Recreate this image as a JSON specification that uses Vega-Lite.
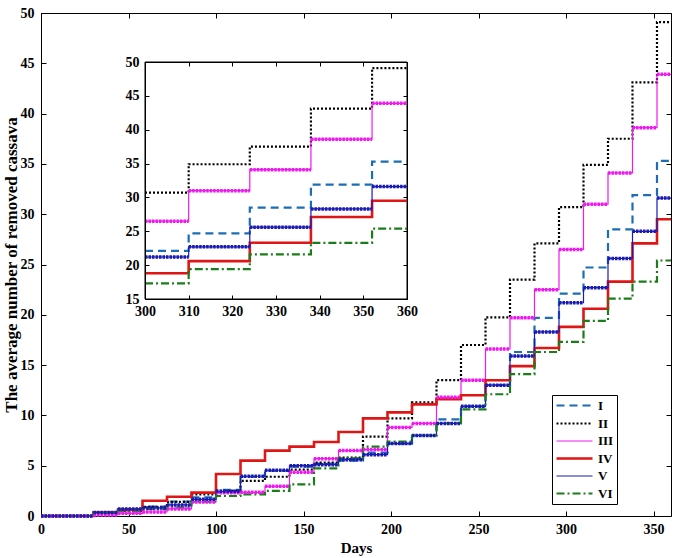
{
  "$schema": "https://vega.github.io/schema/vega-lite/v6.json",
  "width": 630,
  "height": 503,
  "autosize": {"type": "none"},
  "padding": {"left": 41, "top": 13, "right": 14, "bottom": 42},
  "background": "white",
  "config": {
    "view": {"stroke": null},
    "axis": {
      "grid": false,
      "domainColor": "black",
      "tickColor": "black",
      "labelColor": "black",
      "titleColor": "black",
      "labelFont": "Liberation Serif",
      "labelFontWeight": "bold",
      "labelFontSize": 14,
      "titleFont": "Liberation Serif",
      "titleFontWeight": "bold",
      "titleFontSize": 14,
      "labelFlush": false,
      "labelOverlap": false
    },
    "legend": {
      "symbolType": "M-1,0H5",
      "symbolSize": 144,
      "labelFont": "Liberation Serif",
      "labelFontWeight": "bold",
      "labelFontSize": 13,
      "labelColor": "black",
      "fillColor": "white",
      "strokeColor": "black",
      "padding": 3,
      "rowPadding": 3,
      "labelOffset": 28
    }
  },
  "data": {"values": [
    {"s":"I","d":0,"e":30,"v":0},{"s":"I","d":30,"e":44,"v":0.35},{"s":"I","d":44,"e":58,"v":0.66},{"s":"I","d":58,"e":72,"v":0.93},{"s":"I","d":72,"e":86,"v":1.42},{"s":"I","d":86,"e":100,"v":1.86},{"s":"I","d":100,"e":114,"v":2.6},{"s":"I","d":114,"e":128,"v":3.9},{"s":"I","d":128,"e":142,"v":4.5},{"s":"I","d":142,"e":156,"v":4.9},{"s":"I","d":156,"e":170,"v":5.2},{"s":"I","d":170,"e":184,"v":5.5},{"s":"I","d":184,"e":198,"v":6.3},{"s":"I","d":198,"e":212,"v":7.2},{"s":"I","d":212,"e":226,"v":8.0},{"s":"I","d":226,"e":240,"v":9.6},{"s":"I","d":240,"e":254,"v":10.9},{"s":"I","d":254,"e":268,"v":13.0},{"s":"I","d":268,"e":282,"v":16.3},{"s":"I","d":282,"e":296,"v":19.7},{"s":"I","d":296,"e":310,"v":22.1},{"s":"I","d":310,"e":324,"v":24.7},{"s":"I","d":324,"e":338,"v":28.5},{"s":"I","d":338,"e":352,"v":31.9},{"s":"I","d":352,"e":360,"v":35.3},{"s":"I","d":360,"e":360,"v":35.3},
    {"s":"II","d":0,"e":30,"v":0},{"s":"II","d":30,"e":44,"v":0.35},{"s":"II","d":44,"e":58,"v":0.5},{"s":"II","d":58,"e":72,"v":0.9},{"s":"II","d":72,"e":86,"v":1.4},{"s":"II","d":86,"e":100,"v":2.15},{"s":"II","d":100,"e":114,"v":2.5},{"s":"II","d":114,"e":128,"v":3.5},{"s":"II","d":128,"e":142,"v":3.9},{"s":"II","d":142,"e":156,"v":4.6},{"s":"II","d":156,"e":170,"v":5.3},{"s":"II","d":170,"e":184,"v":5.8},{"s":"II","d":184,"e":198,"v":7.9},{"s":"II","d":198,"e":212,"v":9.7},{"s":"II","d":212,"e":226,"v":11.3},{"s":"II","d":226,"e":240,"v":13.5},{"s":"II","d":240,"e":254,"v":17.0},{"s":"II","d":254,"e":268,"v":19.75},{"s":"II","d":268,"e":282,"v":23.5},{"s":"II","d":282,"e":296,"v":27.1},{"s":"II","d":296,"e":310,"v":30.7},{"s":"II","d":310,"e":324,"v":34.9},{"s":"II","d":324,"e":338,"v":37.5},{"s":"II","d":338,"e":352,"v":43.1},{"s":"II","d":352,"e":360,"v":49.1},{"s":"II","d":360,"e":360,"v":49.1},
    {"s":"III","d":0,"e":30,"v":0},{"s":"III","d":30,"e":44,"v":0.1},{"s":"III","d":44,"e":58,"v":0.27},{"s":"III","d":58,"e":72,"v":0.4},{"s":"III","d":72,"e":86,"v":0.7},{"s":"III","d":86,"e":100,"v":1.4},{"s":"III","d":100,"e":114,"v":2.3},{"s":"III","d":114,"e":128,"v":2.35},{"s":"III","d":128,"e":142,"v":2.95},{"s":"III","d":142,"e":156,"v":4.35},{"s":"III","d":156,"e":170,"v":5.7},{"s":"III","d":170,"e":184,"v":6.5},{"s":"III","d":184,"e":198,"v":6.6},{"s":"III","d":198,"e":212,"v":8.8},{"s":"III","d":212,"e":226,"v":9.2},{"s":"III","d":226,"e":240,"v":11.8},{"s":"III","d":240,"e":254,"v":13.5},{"s":"III","d":254,"e":268,"v":16.6},{"s":"III","d":268,"e":282,"v":19.7},{"s":"III","d":282,"e":296,"v":22.5},{"s":"III","d":296,"e":310,"v":26.5},{"s":"III","d":310,"e":324,"v":31.0},{"s":"III","d":324,"e":338,"v":34.1},{"s":"III","d":338,"e":352,"v":38.6},{"s":"III","d":352,"e":360,"v":43.9},{"s":"III","d":360,"e":360,"v":43.9},
    {"s":"IV","d":0,"e":30,"v":0},{"s":"IV","d":30,"e":44,"v":0.35},{"s":"IV","d":44,"e":58,"v":0.6},{"s":"IV","d":58,"e":72,"v":1.52},{"s":"IV","d":72,"e":86,"v":1.92},{"s":"IV","d":86,"e":100,"v":2.32},{"s":"IV","d":100,"e":114,"v":4.17},{"s":"IV","d":114,"e":128,"v":5.5},{"s":"IV","d":128,"e":142,"v":6.5},{"s":"IV","d":142,"e":156,"v":6.9},{"s":"IV","d":156,"e":170,"v":7.35},{"s":"IV","d":170,"e":184,"v":8.35},{"s":"IV","d":184,"e":198,"v":9.7},{"s":"IV","d":198,"e":212,"v":10.3},{"s":"IV","d":212,"e":226,"v":11.1},{"s":"IV","d":226,"e":240,"v":11.6},{"s":"IV","d":240,"e":254,"v":12.0},{"s":"IV","d":254,"e":268,"v":13.5},{"s":"IV","d":268,"e":282,"v":14.9},{"s":"IV","d":282,"e":296,"v":16.7},{"s":"IV","d":296,"e":310,"v":18.8},{"s":"IV","d":310,"e":324,"v":20.6},{"s":"IV","d":324,"e":338,"v":23.3},{"s":"IV","d":338,"e":352,"v":27.1},{"s":"IV","d":352,"e":360,"v":29.5},{"s":"IV","d":360,"e":360,"v":29.5},
    {"s":"V","d":0,"e":30,"v":0},{"s":"V","d":30,"e":44,"v":0.35},{"s":"V","d":44,"e":58,"v":0.7},{"s":"V","d":58,"e":72,"v":0.8},{"s":"V","d":72,"e":86,"v":1.1},{"s":"V","d":86,"e":100,"v":1.66},{"s":"V","d":100,"e":114,"v":2.45},{"s":"V","d":114,"e":128,"v":3.95},{"s":"V","d":128,"e":142,"v":4.55},{"s":"V","d":142,"e":156,"v":5.0},{"s":"V","d":156,"e":170,"v":5.1},{"s":"V","d":170,"e":184,"v":5.6},{"s":"V","d":184,"e":198,"v":6.1},{"s":"V","d":198,"e":212,"v":7.2},{"s":"V","d":212,"e":226,"v":8.0},{"s":"V","d":226,"e":240,"v":9.2},{"s":"V","d":240,"e":254,"v":10.9},{"s":"V","d":254,"e":268,"v":13.0},{"s":"V","d":268,"e":282,"v":15.9},{"s":"V","d":282,"e":296,"v":18.3},{"s":"V","d":296,"e":310,"v":21.2},{"s":"V","d":310,"e":324,"v":22.7},{"s":"V","d":324,"e":338,"v":25.6},{"s":"V","d":338,"e":352,"v":28.3},{"s":"V","d":352,"e":360,"v":31.6},{"s":"V","d":360,"e":360,"v":31.6},
    {"s":"VI","d":0,"e":30,"v":0},{"s":"VI","d":30,"e":44,"v":0.3},{"s":"VI","d":44,"e":58,"v":0.45},{"s":"VI","d":58,"e":72,"v":0.67},{"s":"VI","d":72,"e":86,"v":0.86},{"s":"VI","d":86,"e":100,"v":1.42},{"s":"VI","d":100,"e":114,"v":1.99},{"s":"VI","d":114,"e":128,"v":2.15},{"s":"VI","d":128,"e":142,"v":2.5},{"s":"VI","d":142,"e":156,"v":3.15},{"s":"VI","d":156,"e":170,"v":4.74},{"s":"VI","d":170,"e":184,"v":5.73},{"s":"VI","d":184,"e":198,"v":6.9},{"s":"VI","d":198,"e":212,"v":7.4},{"s":"VI","d":212,"e":226,"v":8.0},{"s":"VI","d":226,"e":240,"v":9.2},{"s":"VI","d":240,"e":254,"v":10.6},{"s":"VI","d":254,"e":268,"v":12.1},{"s":"VI","d":268,"e":282,"v":14.1},{"s":"VI","d":282,"e":296,"v":16.3},{"s":"VI","d":296,"e":310,"v":17.3},{"s":"VI","d":310,"e":324,"v":19.4},{"s":"VI","d":324,"e":338,"v":21.6},{"s":"VI","d":338,"e":352,"v":23.3},{"s":"VI","d":352,"e":360,"v":25.4},{"s":"VI","d":360,"e":360,"v":25.4}
  ]},
  "resolve": {"scale": {"x": "independent", "y": "independent"}},
  "layer": [
    {
      "layer": [
        {
          "mark": {"type": "line", "interpolate": "step-after"},
          "encoding": {
            "x": {"field": "d", "type": "quantitative", "scale": {"domain": [0, 360], "nice": false, "zero": false},
                  "axis": {"orient": "bottom", "values": [0,50,100,150,200,250,300,350], "tickSize": -5, "labelPadding": 11, "title": "Days", "titlePadding": 4, "titleFontSize": 15}},
            "y": {"field": "v", "type": "quantitative", "scale": {"domain": [0, 50], "nice": false, "zero": false},
                  "axis": {"orient": "left", "values": [0,5,10,15,20,25,30,35,40,45,50], "tickSize": -5, "labelPadding": 12, "title": "The average number of removed cassava", "titlePadding": 0, "titleFontSize": 17}},
            "color": {"field": "s", "type": "nominal",
                      "scale": {"domain": ["I","II","III","IV","V","VI"], "range": ["#1c6db3","#000000","#ee1aee","#e01515","#1a1ab5","#1a7d1a"]},
                      "legend": {"orient": "none", "legendX": 511, "legendY": 382, "title": null,
                                 "encode": {"symbols": {"update": {
                                   "strokeDash": {"scale": "strokeDash", "field": "value"},
                                   "strokeWidth": {"scale": "strokeWidth", "field": "value"}
                                 }}}}},
            "strokeDash": {"field": "s", "type": "nominal",
                      "scale": {"domain": ["I","II","III","IV","V","VI"], "range": [[8,5],[2,2],[1,0],[1,0],[1,0],[8,3,2,3]]},
                      "legend": null},
            "strokeWidth": {"field": "s", "type": "nominal",
                      "scale": {"type": "ordinal", "domain": ["I","II","III","IV","V","VI"], "range": [2.2, 2.2, 1.2, 2.6, 1.2, 2.2]},
                      "legend": null}
          }
        },
        {
          "transform": [{"filter": "datum.s === 'III' || datum.s === 'V'"}],
          "mark": {"type": "rule", "strokeWidth": 3.5, "strokeDash": [2.5, 1]},
          "encoding": {
            "x": {"field": "d", "type": "quantitative"},
            "x2": {"field": "e"},
            "y": {"field": "v", "type": "quantitative"},
            "color": {"field": "s", "type": "nominal", "legend": null}
          }
        }
      ]
    },
    {
      "mark": {"type": "point", "opacity": 0},
      "encoding": {
        "x": {"field": "d", "type": "quantitative", "scale": {"domain": [0, 360], "nice": false, "zero": false},
              "axis": {"orient": "top", "values": [0,50,100,150,200,250,300,350], "tickSize": -5, "labels": false, "title": null}},
        "y": {"field": "v", "type": "quantitative", "scale": {"domain": [0, 50], "nice": false, "zero": false},
              "axis": {"orient": "right", "values": [0,5,10,15,20,25,30,35,40,45,50], "tickSize": -5, "labels": false, "title": null}}
      }
    },
    {
      "layer": [
        {
          "data": {"values": [{"d": 300, "e": 360, "v": 15, "w": 50}]},
          "mark": {"type": "rect", "fill": "white", "stroke": "black", "strokeWidth": 1},
          "encoding": {
            "x": {"field": "d", "type": "quantitative", "scale": {"domain": [300, 360], "range": [104, 366], "clamp": true, "nice": false, "zero": false},
                  "axis": {"orient": "bottom", "offset": -217, "values": [300,310,320,330,340,350,360], "tickSize": -4, "labelPadding": 9, "title": null, "zindex": 1}},
            "x2": {"field": "e"},
            "y": {"field": "v", "type": "quantitative", "scale": {"domain": [15, 50], "range": [286, 49], "nice": false, "zero": false},
                  "axis": {"orient": "left", "offset": -104, "values": [15,20,25,30,35,40,45,50], "tickSize": -4, "labelPadding": 10, "title": null, "zindex": 1}},
            "y2": {"field": "w"}
          }
        },
        {
          "transform": [{"filter": "datum.d >= 296"}],
          "mark": {"type": "line", "interpolate": "step-after"},
          "encoding": {
            "x": {"field": "d", "type": "quantitative"},
            "y": {"field": "v", "type": "quantitative"},
            "color": {"field": "s", "type": "nominal", "legend": null},
            "strokeDash": {"field": "s", "type": "nominal",
                      "scale": {"domain": ["I","II","III","IV","V","VI"], "range": [[8,5],[2,2],[1,0],[1,0],[1,0],[8,3,2,3]]},
                      "legend": null},
            "strokeWidth": {"field": "s", "type": "nominal",
                      "scale": {"type": "ordinal", "domain": ["I","II","III","IV","V","VI"], "range": [2.2, 2.2, 1.2, 2.6, 1.2, 2.2]},
                      "legend": null}
          }
        },
        {
          "transform": [{"filter": "datum.d >= 296 && (datum.s === 'III' || datum.s === 'V')"}],
          "mark": {"type": "rule", "strokeWidth": 3.5, "strokeDash": [2.5, 1]},
          "encoding": {
            "x": {"field": "d", "type": "quantitative"},
            "x2": {"field": "e"},
            "y": {"field": "v", "type": "quantitative"},
            "color": {"field": "s", "type": "nominal", "legend": null}
          }
        }
      ]
    },
    {
      "mark": {"type": "point", "opacity": 0},
      "encoding": {
        "x": {"field": "d", "type": "quantitative", "scale": {"domain": [300, 360], "range": [104, 366], "clamp": true, "nice": false, "zero": false},
              "axis": {"orient": "top", "offset": -49, "values": [300,310,320,330,340,350,360], "tickSize": -4, "labels": false, "title": null, "zindex": 1}},
        "y": {"field": "v", "type": "quantitative", "scale": {"domain": [15, 50], "range": [286, 49], "clamp": true, "nice": false, "zero": false},
              "axis": {"orient": "right", "offset": -264, "values": [15,20,25,30,35,40,45,50], "tickSize": -4, "labels": false, "title": null, "zindex": 1}}
      }
    }
  ]
}
